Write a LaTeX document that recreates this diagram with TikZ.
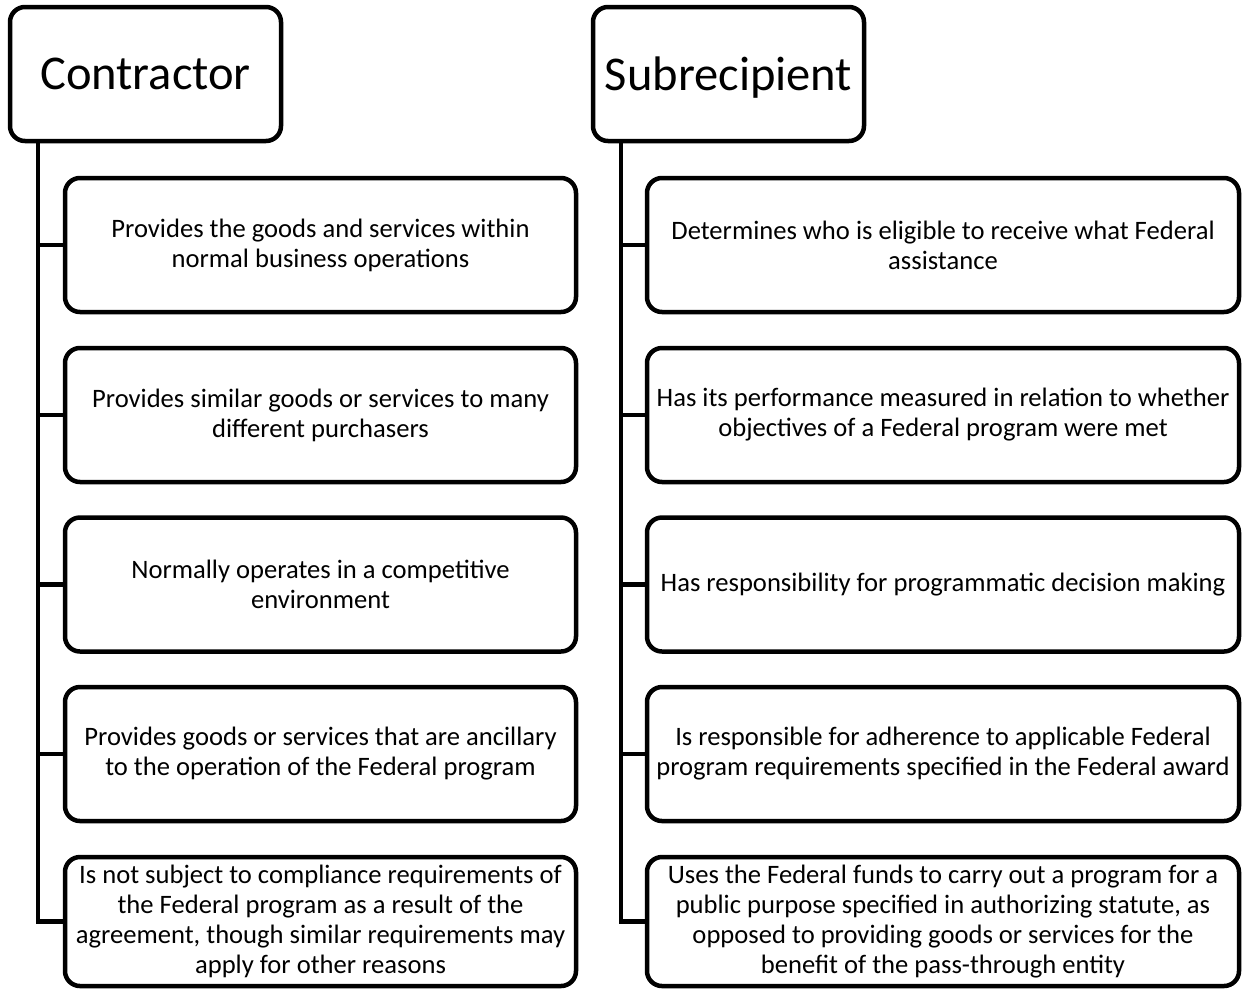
\documentclass[tikz,border=0pt]{standalone}
\usepackage{fontspec}
\setmainfont{Carlito}
\begin{document}
\begin{tikzpicture}[x=1pt,y=-1pt,
  head/.style={draw=black,line width=4.5pt,rounded corners=15pt,fill=white,
    minimum width=271pt,minimum height=134pt,inner sep=0pt,text depth=0pt,
    font=\fontsize{48.5}{56}\selectfont},
  item/.style={draw=black,line width=4.5pt,rounded corners=15pt,fill=white,
    minimum height=134pt,inner sep=0pt,align=center,
    font=\fontsize{26.6}{30}\selectfont},
  litem/.style={item,minimum width=511pt},
  ritem/.style={item,minimum width=592pt},
  conn/.style={draw=black,line width=4.5pt,line join=miter}]
\useasboundingbox (0,0) rectangle (1245,989);
\fill[white] (0,0) rectangle (1245,989);
\coordinate (lt) at (38,0);
\coordinate (rt) at (621,0);
% left column
\node[head] (cont) at (145.5,74) {Contractor};
\node[litem] (c1) at (320.5,245) {Provides the goods and services within\\normal business operations};
\node[litem] (c2) at (320.5,415) {Provides similar goods or services to many\\different purchasers};
\node[litem] (c3) at (320.5,584.5) {Normally operates in a competitive\\environment};
\node[litem] (c4) at (320.5,754) {Provides goods or services that are ancillary\\to the operation of the Federal program};
\node[litem,minimum height=129pt] (c5) at (320.5,921.5) {Is not subject to compliance requirements of\\the Federal program as a result of the\\agreement, though similar requirements may\\apply for other reasons};
% right column
\node[head] (sub) at (728.5,74) {Subrecipient};
\node[ritem] (s1) at (943,245) {Determines who is eligible to receive what Federal\\assistance};
\node[ritem] (s2) at (943,415) {Has its performance measured in relation to whether\\objectives of a Federal program were met};
\node[ritem] (s3) at (943,584.5) {Has responsibility for programmatic decision making};
\node[ritem] (s4) at (943,754) {Is responsible for adherence to applicable Federal\\program requirements specified in the Federal award};
\node[ritem,minimum height=129pt] (s5) at (943,921.5) {Uses the Federal funds to carry out a program for a\\public purpose specified in authorizing statute, as\\opposed to providing goods or services for the\\benefit of the pass-through entity};
% connectors
\draw[conn] (cont.south -| lt) |- (c5.west);
\foreach \n in {c1,c2,c3,c4} \draw[conn] (\n.west -| lt) -- (\n.west);
\draw[conn] (sub.south -| rt) |- (s5.west);
\foreach \n in {s1,s2,s3,s4} \draw[conn] (\n.west -| rt) -- (\n.west);
\end{tikzpicture}
\end{document}
